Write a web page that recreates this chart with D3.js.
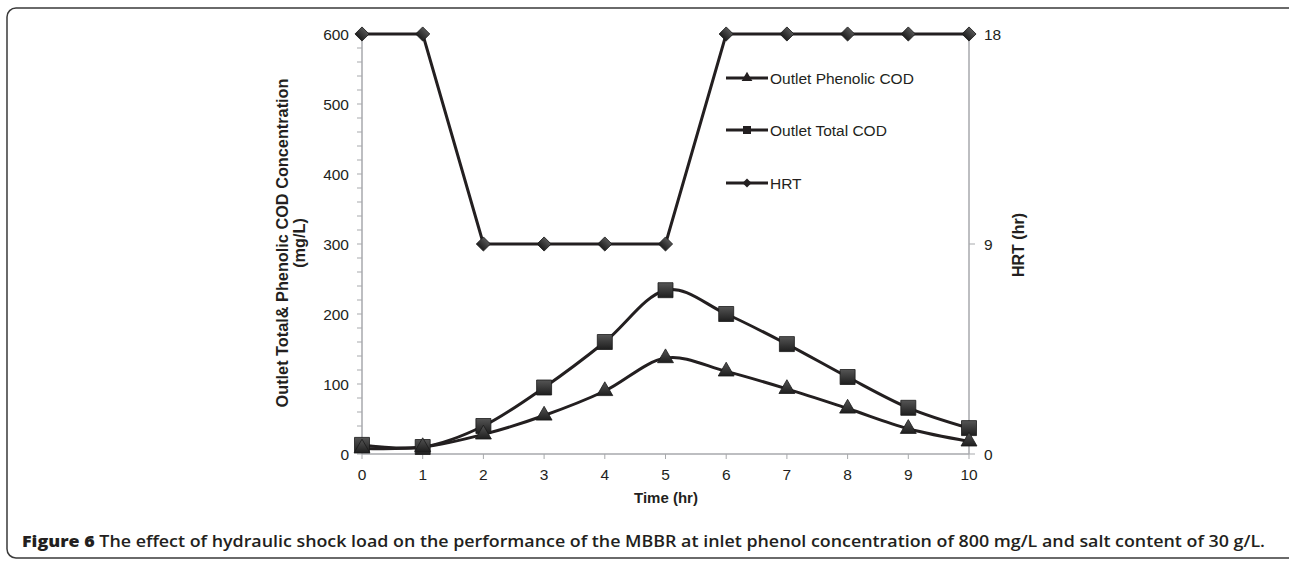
<!DOCTYPE html>
<html><head><meta charset="utf-8">
<script src="https://cdn.jsdelivr.net/npm/d3@7"></script>
<style>body{margin:0;background:#fff}svg{display:block}text{fill:#231f20}</style>
</head><body>
<svg id="c" width="1289" height="562"></svg>
<script>
const timeHr = [0,1,2,3,4,5,6,7,8,9,10];
const phenolicCOD = [8,10,28,55,90,137,118,93,65,36,18];
const totalCOD = [13,10,40,95,160,234,200,157,110,66,37];
const hrt = [18,18,9,9,9,9,18,18,18,18,18];
const leftTicks = [0,100,200,300,400,500,600];
const rightTicks = [0,9,18];
const seriesNames = ["Outlet Phenolic COD","Outlet Total COD","HRT"];

const svg = d3.select("#c");
const ink = "#231f20", axisCol = "#a7a9ac";
const font = "'Liberation Sans', Arial, sans-serif";

// frame
svg.append("rect").attr("x",7).attr("y",8).attr("width",1290).attr("height",550)
  .attr("rx",9).attr("fill","none").attr("stroke","#3a3a3a").attr("stroke-width",1.5);

const x = d3.scaleLinear().domain([0,10]).range([362,969]);
const y = d3.scaleLinear().domain([0,600]).range([454,34]);
const y2 = d3.scaleLinear().domain([0,18]).range([454,34]);

// left axis minor ticks
const minor = d3.range(0,601,20);
svg.append("g").selectAll("line").data(minor).join("line")
  .attr("x1",357).attr("x2",362).attr("y1",d=>y(d)).attr("y2",d=>y(d))
  .attr("stroke",axisCol).attr("stroke-width",1);
svg.append("line").attr("x1",362).attr("x2",362).attr("y1",y(0)).attr("y2",y(600))
  .attr("stroke",axisCol).attr("stroke-width",1.5);
svg.append("g").selectAll("text").data(leftTicks).join("text")
  .attr("x",349).attr("y",d=>y(d)+5.5).attr("text-anchor","end")
  .attr("font-family",font).attr("font-size",15.5).text(d=>d);

// right axis
svg.append("line").attr("x1",969).attr("x2",969).attr("y1",y2(0)).attr("y2",y2(18))
  .attr("stroke",axisCol).attr("stroke-width",1.5);
svg.append("g").selectAll("line").data(rightTicks).join("line")
  .attr("x1",969).attr("x2",975).attr("y1",d=>y2(d)).attr("y2",d=>y2(d))
  .attr("stroke",axisCol).attr("stroke-width",1);
svg.append("g").selectAll("text").data(rightTicks).join("text")
  .attr("x",984).attr("y",d=>y2(d)+5.5).attr("font-family",font).attr("font-size",15.5).text(d=>d);

// x axis
svg.append("line").attr("x1",362).attr("x2",969).attr("y1",454).attr("y2",454)
  .attr("stroke",axisCol).attr("stroke-width",1.5);
svg.append("g").selectAll("line").data(timeHr).join("line")
  .attr("x1",d=>x(d)).attr("x2",d=>x(d)).attr("y1",454).attr("y2",459)
  .attr("stroke",axisCol).attr("stroke-width",1);
svg.append("g").selectAll("text").data(timeHr).join("text")
  .attr("x",d=>x(d)).attr("y",480).attr("text-anchor","middle")
  .attr("font-family",font).attr("font-size",15.5).text(d=>d);

// axis titles
svg.append("text").attr("x",666).attr("y",503).attr("text-anchor","middle")
  .attr("font-family",font).attr("font-size",15).attr("font-weight","bold").text("Time (hr)");
const yt = svg.append("text").attr("transform","translate(288,243) rotate(-90)")
  .attr("text-anchor","middle").attr("font-family",font).attr("font-size",16.3).attr("font-weight","bold");
yt.append("tspan").attr("x",0).attr("dy",0).text("Outlet Total& Phenolic COD Concentration");
yt.append("tspan").attr("x",0).attr("dy",17).text("(mg/L)");
svg.append("text").attr("transform","translate(1024,245) rotate(-90)")
  .attr("text-anchor","middle").attr("font-family",font).attr("font-size",16).attr("font-weight","bold").text("HRT (hr)");

// lines
const smooth = d3.line().x((d,i)=>x(timeHr[i])).y(d=>y(d)).curve(d3.curveCatmullRom.alpha(0));
const straight = d3.line().x((d,i)=>x(timeHr[i])).y(d=>y2(d));
svg.append("path").attr("d",straight(hrt)).attr("fill","none").attr("stroke",ink).attr("stroke-width",3);
svg.append("path").attr("d",smooth(totalCOD)).attr("fill","none").attr("stroke",ink).attr("stroke-width",3);
svg.append("path").attr("d",smooth(phenolicCOD)).attr("fill","none").attr("stroke",ink).attr("stroke-width",3);

const defs = svg.append("defs");
const g = defs.append("linearGradient").attr("id","mk").attr("x1",0).attr("y1",0).attr("x2",0).attr("y2",1);
g.append("stop").attr("offset","0%").attr("stop-color","#555");
g.append("stop").attr("offset","100%").attr("stop-color","#1e1e1e");

const sym = {
  tri: d3.symbol().type(d3.symbolTriangle).size(110)(),
  sq: d3.symbol().type(d3.symbolSquare).size(225)(),
  dia: d3.symbol().type(d3.symbolSquare).size(100)()
};
function markers(data, yy, s, rot){
  svg.append("g").selectAll("path").data(data).join("path")
    .attr("d",s).attr("transform",(d,i)=>`translate(${x(timeHr[i])},${yy(d)}) rotate(${rot})`)
    .attr("fill","url(#mk)").attr("stroke","#1a1a1a").attr("stroke-width",0.8);
}
markers(hrt, y2, sym.dia, 45);
markers(totalCOD, y, sym.sq, 0);
markers(phenolicCOD, y, sym.tri, 0);

// legend
const legY = [78,130,183];
const legSym = [d3.symbol().type(d3.symbolTriangle).size(50)(), d3.symbol().type(d3.symbolSquare).size(64)(), d3.symbol().type(d3.symbolSquare).size(40)()];
const legRot = [0,0,45];
seriesNames.forEach((n,i)=>{
  svg.append("line").attr("x1",726).attr("x2",768).attr("y1",legY[i]).attr("y2",legY[i])
    .attr("stroke",ink).attr("stroke-width",3);
  svg.append("path").attr("d",legSym[i]).attr("transform",`translate(747,${legY[i]}) rotate(${legRot[i]})`).attr("fill",ink);
  svg.append("text").attr("x",770).attr("y",legY[i]+5.5).attr("font-family",font).attr("font-size",15.5).text(n);
});

// caption
const cap = svg.append("text").attr("x",22).attr("y",547).attr("font-family","'Open Sans', sans-serif")
  .attr("font-size",16).attr("font-weight",600).attr("textLength",1243).attr("lengthAdjust","spacingAndGlyphs");
cap.append("tspan").attr("font-weight",800).text("Figure 6");
cap.append("tspan").text(" The effect of hydraulic shock load on the performance of the MBBR at inlet phenol concentration of 800 mg/L and salt content of 30 g/L.");
</script>
</body></html>
